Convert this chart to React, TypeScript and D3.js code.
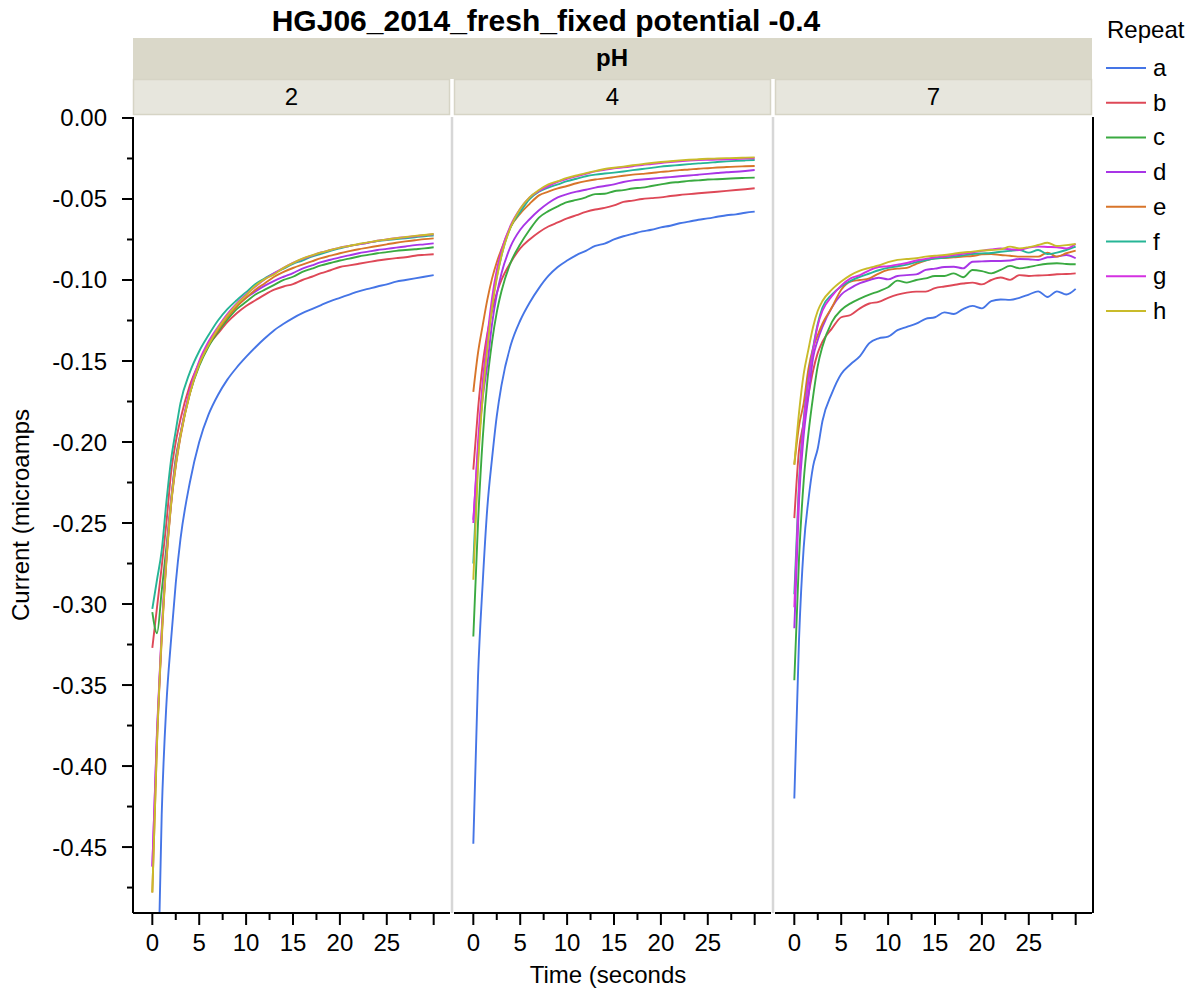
import React from 'react';
import * as d3 from 'd3';

// sample times (seconds) shared by every repeat
const TIME = [0, 0.5, 1, 1.5, 2, 2.5, 3, 4, 5, 6, 7, 8, 9, 10, 11, 12, 13, 14, 15, 16, 17, 18, 19, 20, 21, 22, 23, 24, 25, 26, 27, 28, 29, 30];

const REPEATS = ['a', 'b', 'c', 'd', 'e', 'f', 'g', 'h'];
const COLORS = ['#4575e6', '#de4857', '#3aaa41', '#a835e6', '#d8752a', '#26b596', '#d431e2', '#c9bb2a'];
const PH_LEVELS = ['2', '4', '7'];

const Y_MAJOR = [0, -0.05, -0.1, -0.15, -0.2, -0.25, -0.3, -0.35, -0.4, -0.45];
const Y_MINOR = [-0.025, -0.075, -0.125, -0.175, -0.225, -0.275, -0.325, -0.375, -0.425, -0.475];
const X_MAJOR = [0, 5, 10, 15, 20, 25, 30];
const X_LABELS = [0, 5, 10, 15, 20, 25];
const X_MINOR = [2.5, 7.5, 12.5, 17.5, 22.5, 27.5];

// pH 2
const ph2A = [-0.62, -0.56, -0.43, -0.362, -0.322, -0.287, -0.26, -0.225, -0.2, -0.183, -0.171, -0.1615, -0.154, -0.1475, -0.1415, -0.136, -0.131, -0.127, -0.1235, -0.1205, -0.118, -0.1155, -0.113, -0.111, -0.109, -0.107, -0.1055, -0.104, -0.1027, -0.101, -0.1, -0.099, -0.098, -0.097];
const ph2B = [-0.327, -0.302, -0.277, -0.25, -0.219, -0.2, -0.186, -0.165, -0.151, -0.14, -0.133, -0.126, -0.1205, -0.116, -0.1125, -0.109, -0.106, -0.104, -0.1025, -0.1, -0.098, -0.0958, -0.094, -0.092, -0.091, -0.09, -0.089, -0.088, -0.0872, -0.0865, -0.086, -0.085, -0.0845, -0.0841];
const ph2C = [-0.305, -0.318, -0.292, -0.265, -0.236, -0.21, -0.195, -0.17, -0.153, -0.141, -0.132, -0.1245, -0.118, -0.1135, -0.109, -0.106, -0.103, -0.1, -0.098, -0.095, -0.093, -0.091, -0.0895, -0.088, -0.0868, -0.0855, -0.0845, -0.0835, -0.0828, -0.082, -0.0815, -0.081, -0.0805, -0.0798];
const ph2D = [-0.462, -0.38, -0.318, -0.272, -0.238, -0.214, -0.196, -0.169, -0.151, -0.139, -0.13, -0.122, -0.116, -0.111, -0.107, -0.1035, -0.1005, -0.098, -0.0957, -0.093, -0.091, -0.089, -0.0875, -0.086, -0.0848, -0.0835, -0.0825, -0.0815, -0.0808, -0.08, -0.0793, -0.0785, -0.078, -0.0774];
const ph2E = [-0.478, -0.386, -0.322, -0.274, -0.239, -0.215, -0.197, -0.17, -0.152, -0.14, -0.131, -0.123, -0.1165, -0.111, -0.106, -0.102, -0.098, -0.095, -0.0926, -0.0905, -0.0885, -0.0865, -0.085, -0.0835, -0.0822, -0.081, -0.08, -0.079, -0.078, -0.077, -0.0762, -0.0755, -0.0748, -0.0743];
const ph2F = [-0.303, -0.285, -0.267, -0.237, -0.211, -0.193, -0.176, -0.157, -0.144, -0.134, -0.125, -0.118, -0.1125, -0.1075, -0.1025, -0.099, -0.0957, -0.093, -0.09, -0.088, -0.0855, -0.0838, -0.082, -0.0805, -0.079, -0.078, -0.077, -0.076, -0.0753, -0.0748, -0.0742, -0.0736, -0.073, -0.0726];
const ph2G = [-0.462, -0.378, -0.316, -0.27, -0.236, -0.212, -0.195, -0.168, -0.15, -0.138, -0.129, -0.121, -0.1145, -0.109, -0.104, -0.0995, -0.0958, -0.0925, -0.0895, -0.087, -0.085, -0.083, -0.0815, -0.08, -0.079, -0.078, -0.077, -0.0758, -0.075, -0.0742, -0.0736, -0.073, -0.0724, -0.0718];
const ph2H = [-0.478, -0.385, -0.32, -0.273, -0.238, -0.214, -0.196, -0.17, -0.152, -0.14, -0.13, -0.122, -0.115, -0.1095, -0.1035, -0.0995, -0.0965, -0.0925, -0.0895, -0.0868, -0.0848, -0.083, -0.0815, -0.08, -0.079, -0.0778, -0.0768, -0.0758, -0.075, -0.0742, -0.0735, -0.0728, -0.0722, -0.0716];

// pH 4
const ph4A = [-0.448, -0.345, -0.287, -0.24, -0.21, -0.184, -0.165, -0.14, -0.125, -0.114, -0.105, -0.0975, -0.092, -0.088, -0.0846, -0.082, -0.079, -0.0775, -0.075, -0.073, -0.0715, -0.07, -0.069, -0.0675, -0.0665, -0.065, -0.064, -0.0628, -0.062, -0.061, -0.06, -0.0595, -0.0585, -0.0578];
const ph4B = [-0.217, -0.18, -0.152, -0.133, -0.119, -0.108, -0.1, -0.089, -0.0805, -0.075, -0.0705, -0.067, -0.0645, -0.062, -0.06, -0.058, -0.0565, -0.0555, -0.054, -0.0518, -0.051, -0.05, -0.0495, -0.049, -0.0482, -0.0475, -0.047, -0.0465, -0.046, -0.0455, -0.045, -0.0445, -0.044, -0.0434];
const ph4C = [-0.32, -0.25, -0.198, -0.162, -0.138, -0.12, -0.107, -0.089, -0.078, -0.069, -0.0615, -0.0575, -0.0545, -0.052, -0.0506, -0.049, -0.047, -0.0468, -0.0452, -0.0445, -0.0435, -0.043, -0.042, -0.041, -0.04, -0.0395, -0.0388, -0.0385, -0.038, -0.0378, -0.0375, -0.0372, -0.037, -0.0368];
const ph4D = [-0.248, -0.205, -0.173, -0.152, -0.127, -0.109, -0.096, -0.079, -0.069, -0.0625, -0.057, -0.0525, -0.049, -0.047, -0.0455, -0.0443, -0.043, -0.042, -0.041, -0.0395, -0.0385, -0.038, -0.0375, -0.037, -0.0365, -0.036, -0.0355, -0.035, -0.0345, -0.034, -0.0335, -0.0332, -0.0327, -0.0321];
const ph4E = [-0.169, -0.145, -0.128, -0.112, -0.099, -0.089, -0.081, -0.067, -0.059, -0.053, -0.0478, -0.0455, -0.0435, -0.042, -0.0403, -0.039, -0.038, -0.0373, -0.0365, -0.0357, -0.035, -0.0345, -0.034, -0.0333, -0.0328, -0.0322, -0.0318, -0.0313, -0.031, -0.0306, -0.0303, -0.03, -0.0298, -0.0296];
const ph4F = [-0.275, -0.21, -0.168, -0.14, -0.115, -0.098, -0.085, -0.067, -0.058, -0.05, -0.0455, -0.043, -0.041, -0.039, -0.0375, -0.036, -0.035, -0.0343, -0.0337, -0.033, -0.0322, -0.0315, -0.0308, -0.03, -0.0295, -0.029, -0.0285, -0.028, -0.0277, -0.0272, -0.0268, -0.0265, -0.0262, -0.0259];
const ph4G = [-0.25, -0.2, -0.163, -0.135, -0.111, -0.094, -0.082, -0.066, -0.056, -0.049, -0.045, -0.042, -0.0395, -0.0375, -0.036, -0.0345, -0.033, -0.032, -0.031, -0.0305, -0.0298, -0.029, -0.0284, -0.0278, -0.0272, -0.0267, -0.0263, -0.026, -0.0258, -0.0257, -0.0255, -0.0253, -0.0251, -0.0249];
const ph4H = [-0.285, -0.215, -0.172, -0.142, -0.117, -0.099, -0.085, -0.067, -0.056, -0.049, -0.0445, -0.041, -0.039, -0.037, -0.0355, -0.034, -0.0328, -0.0315, -0.0307, -0.03, -0.0292, -0.0285, -0.0278, -0.0272, -0.0267, -0.0262, -0.0258, -0.0255, -0.0252, -0.025, -0.0248, -0.0247, -0.0245, -0.0243];

// pH 7
const ph7A = [-0.42, -0.322, -0.265, -0.236, -0.215, -0.204, -0.187, -0.17, -0.158, -0.152, -0.147, -0.139, -0.136, -0.135, -0.131, -0.129, -0.127, -0.124, -0.123, -0.12, -0.121, -0.118, -0.116, -0.1175, -0.113, -0.112, -0.1123, -0.111, -0.109, -0.107, -0.1105, -0.107, -0.109, -0.1055];
const ph7B = [-0.247, -0.205, -0.188, -0.171, -0.156, -0.145, -0.138, -0.13, -0.123, -0.1216, -0.1175, -0.1145, -0.1135, -0.111, -0.109, -0.1078, -0.1072, -0.1072, -0.105, -0.104, -0.1031, -0.1022, -0.1016, -0.1027, -0.1, -0.0985, -0.0999, -0.097, -0.0975, -0.0972, -0.097, -0.0965, -0.0963, -0.0959];
const ph7C = [-0.347, -0.272, -0.224, -0.195, -0.172, -0.153, -0.141, -0.126, -0.1185, -0.1144, -0.1115, -0.109, -0.107, -0.1045, -0.1004, -0.1016, -0.1, -0.099, -0.0975, -0.0975, -0.0959, -0.0983, -0.0938, -0.0945, -0.0959, -0.0938, -0.0913, -0.0928, -0.092, -0.0908, -0.09, -0.0897, -0.0901, -0.0903];
const ph7D = [-0.315, -0.236, -0.196, -0.172, -0.148, -0.137, -0.129, -0.117, -0.109, -0.105, -0.102, -0.1, -0.0986, -0.0996, -0.0975, -0.097, -0.0965, -0.0938, -0.093, -0.092, -0.0918, -0.0928, -0.0887, -0.0885, -0.0883, -0.0883, -0.088, -0.087, -0.0872, -0.0877, -0.086, -0.0856, -0.0846, -0.0866];
const ph7E = [-0.214, -0.19, -0.176, -0.155, -0.142, -0.134, -0.127, -0.117, -0.106, -0.101, -0.1, -0.099, -0.096, -0.0938, -0.093, -0.0925, -0.09, -0.088, -0.0866, -0.0864, -0.086, -0.0855, -0.0852, -0.0842, -0.084, -0.0846, -0.085, -0.0856, -0.0856, -0.0856, -0.0831, -0.0856, -0.0835, -0.0819];
const ph7F = [-0.294, -0.225, -0.186, -0.161, -0.142, -0.127, -0.117, -0.109, -0.104, -0.1005, -0.098, -0.096, -0.094, -0.0925, -0.0915, -0.0905, -0.089, -0.0878, -0.0868, -0.0862, -0.0856, -0.0848, -0.084, -0.0836, -0.0833, -0.0826, -0.082, -0.0815, -0.0831, -0.0815, -0.084, -0.0831, -0.0815, -0.0794];
const ph7G = [-0.302, -0.228, -0.188, -0.162, -0.143, -0.128, -0.119, -0.11, -0.1035, -0.099, -0.097, -0.094, -0.092, -0.0915, -0.0905, -0.0895, -0.088, -0.087, -0.086, -0.0855, -0.0846, -0.0838, -0.083, -0.082, -0.0812, -0.0806, -0.081, -0.0815, -0.08, -0.0794, -0.0796, -0.0798, -0.0805, -0.0778];
const ph7H = [-0.214, -0.182, -0.158, -0.143, -0.129, -0.119, -0.113, -0.106, -0.101, -0.097, -0.0942, -0.0925, -0.091, -0.089, -0.0876, -0.087, -0.0866, -0.0856, -0.085, -0.0846, -0.0838, -0.083, -0.0825, -0.0818, -0.0815, -0.0811, -0.0794, -0.0805, -0.0797, -0.0784, -0.077, -0.079, -0.0785, -0.0778];

const PANEL_SERIES = [
  [ph2A, ph2B, ph2C, ph2D, ph2E, ph2F, ph2G, ph2H],
  [ph4A, ph4B, ph4C, ph4D, ph4E, ph4F, ph4G, ph4H],
  [ph7A, ph7B, ph7C, ph7D, ph7E, ph7F, ph7G, ph7H],
];

const FONT = '"Liberation Sans", Arial, Helvetica, sans-serif';

const W = 1204;
const H = 990;
const plotTop = 117;
const plotBottom = 913;
const panelW = 317;
const panelLefts = [133, 454, 775];
const rightEdge = 1093;

// JMP writes a plain hyphen, not the unicode minus d3.format gives
const fmtY = (v: number) => (v === 0 ? '0.00' : v.toFixed(2));

const App = () => {
  const xScale = d3.scaleLinear().domain([-2.06, 31.74]).range([0, panelW]);
  const yScale = d3.scaleLinear().domain([-0.4907, 0.0006]).range([plotBottom, plotTop]);

  const lineGen = d3.line<number>()
    .x((_, i) => xScale(TIME[i]))
    .y((v) => yScale(v))
    .curve(d3.curveMonotoneX);

  return (
    <svg width={W} height={H} style={{ position: 'absolute', left: 0, top: 0, background: '#fff' }} fontFamily={FONT}>
      <defs>
        {panelLefts.map((px, p) => (
          <clipPath id={`clip${p}`} key={p}>
            <rect x={0} y={plotTop} width={panelW} height={plotBottom - plotTop} />
          </clipPath>
        ))}
      </defs>

      {/* title */}
      <text x={546} y={31} textAnchor="middle" fontSize={30} fontWeight="bold" fill="#000">
        HGJ06_2014_fresh_fixed potential -0.4
      </text>

      {/* strips */}
      <rect x={133} y={38} width={rightEdge - 1 - 133} height={41} fill="#dad8c9" />
      <text x={612} y={66} textAnchor="middle" fontSize={24} fontWeight="bold">pH</text>
      {panelLefts.map((px, p) => (
        <g key={p}>
          <rect x={px + 0.5} y={79.5} width={panelW - 1} height={35} fill="#e7e6dd" stroke="#d6d4c5" strokeWidth={1.5} />
          <text x={px + panelW / 2} y={105} textAnchor="middle" fontSize={24}>{PH_LEVELS[p]}</text>
        </g>
      ))}

      {/* panel separators */}
      {[452, 773].map((sx) => (
        <line key={sx} x1={sx} x2={sx} y1={plotTop} y2={plotBottom} stroke="#d7d7d7" strokeWidth={2.5} />
      ))}

      {/* series */}
      {panelLefts.map((px, p) => (
        <g key={p} transform={`translate(${px},0)`}>
          <g clipPath={`url(#clip${p})`}>
            {PANEL_SERIES[p].map((s, k) => (
              <path key={k} d={lineGen(s) || ''} fill="none" stroke={COLORS[k]} strokeWidth={1.9} strokeLinejoin="round" />
            ))}
          </g>
          {/* x axis */}
          <line x1={0} x2={panelW} y1={plotBottom} y2={plotBottom} stroke="#000" strokeWidth={2} />
          {X_MAJOR.map((t) => (
            <line key={t} x1={xScale(t)} x2={xScale(t)} y1={plotBottom} y2={plotBottom + 12} stroke="#000" strokeWidth={2} />
          ))}
          {X_MINOR.map((t) => (
            <line key={t} x1={xScale(t)} x2={xScale(t)} y1={plotBottom} y2={plotBottom + 7} stroke="#000" strokeWidth={2} />
          ))}
          {X_LABELS.map((t) => (
            <text key={t} x={xScale(t)} y={951} textAnchor="middle" fontSize={24}>{t}</text>
          ))}
        </g>
      ))}

      {/* y axis */}
      <line x1={133} x2={133} y1={plotTop} y2={plotBottom} stroke="#000" strokeWidth={2} />
      {Y_MAJOR.map((v) => (
        <g key={v}>
          <line x1={122} x2={133} y1={yScale(v)} y2={yScale(v)} stroke="#000" strokeWidth={2} />
          <text x={107} y={yScale(v) + 8.5} textAnchor="end" fontSize={24}>{fmtY(v)}</text>
        </g>
      ))}
      {Y_MINOR.map((v) => (
        <line key={v} x1={127} x2={133} y1={yScale(v)} y2={yScale(v)} stroke="#000" strokeWidth={2} />
      ))}
      <line x1={rightEdge} x2={rightEdge} y1={plotTop} y2={plotBottom} stroke="#000" strokeWidth={2} />

      {/* axis titles */}
      <text transform={`translate(29,515) rotate(-90)`} textAnchor="middle" fontSize={24}>Current (microamps</text>
      <text x={608} y={983} textAnchor="middle" fontSize={24}>Time (seconds</text>

      {/* legend */}
      <text x={1107} y={38} fontSize={24}>Repeat</text>
      {REPEATS.map((r, k) => {
        const ly = 68 + k * 34.7;
        return (
          <g key={r}>
            <line x1={1106} x2={1146} y1={ly} y2={ly} stroke={COLORS[k]} strokeWidth={2} />
            <text x={1153} y={ly + 8} fontSize={24}>{r}</text>
          </g>
        );
      })}
    </svg>
  );
};

export default App;
